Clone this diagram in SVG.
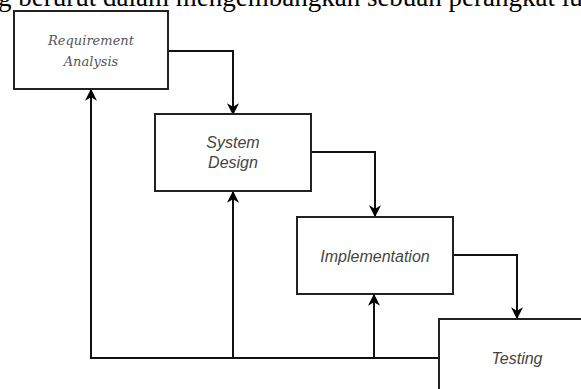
<svg xmlns="http://www.w3.org/2000/svg" width="581" height="389" viewBox="0 0 581 389">
<defs>
<style>
.box{fill:#fff;stroke:#222;stroke-width:2}
.ln{fill:none;stroke:#111;stroke-width:2}
.serif{font-family:"DejaVu Serif","Liberation Serif",serif;font-style:italic;font-size:13px;fill:#555;text-anchor:middle}
.sans{font-family:"Liberation Sans",Arial,sans-serif;font-style:italic;font-size:16px;fill:#444;text-anchor:middle}
.top{font-family:"Liberation Serif","Times New Roman",serif;font-size:27px;fill:#000}
</style>
<marker id="ar" viewBox="0 0 10 10" refX="9" refY="5" markerWidth="6" markerHeight="6" orient="auto" markerUnits="strokeWidth">
<path d="M0,0 L10,5 L0,10 L3,5 z" fill="#000"/>
</marker>
</defs>
<rect width="581" height="389" fill="#fff"/>
<text class="top" x="-2" y="6">g berurut dalam mengembangkan sebuah perangkat lun</text>
<g id="connectors">
<path class="ln" d="M168,51 H233 V114" marker-end="url(#ar)"/>
<path class="ln" d="M311,152 H375 V216" marker-end="url(#ar)"/>
<path class="ln" d="M453,255 H517 V318" marker-end="url(#ar)"/>
<path class="ln" d="M439,358 H91 V90" marker-end="url(#ar)"/>
<path class="ln" d="M233,358 V192" marker-end="url(#ar)"/>
<path class="ln" d="M374,358 V295" marker-end="url(#ar)"/>
</g>
<g id="requirement">
<rect class="box" x="14" y="11" width="154" height="78"/>
<text class="serif" x="91" y="45">Requirement</text>
<text class="serif" x="91" y="66">Analysis</text>
</g>
<g id="design">
<rect class="box" x="155" y="114" width="156" height="77"/>
<text class="sans" x="233" y="148">System</text>
<text class="sans" x="233" y="168">Design</text>
</g>
<g id="implementation">
<rect class="box" x="297" y="217" width="156" height="77"/>
<text class="sans" x="375" y="262">Implementation</text>
</g>
<g id="testing">
<rect class="box" x="439" y="319" width="160" height="90"/>
<text class="sans" x="517" y="364">Testing</text>
</g>
</svg>
